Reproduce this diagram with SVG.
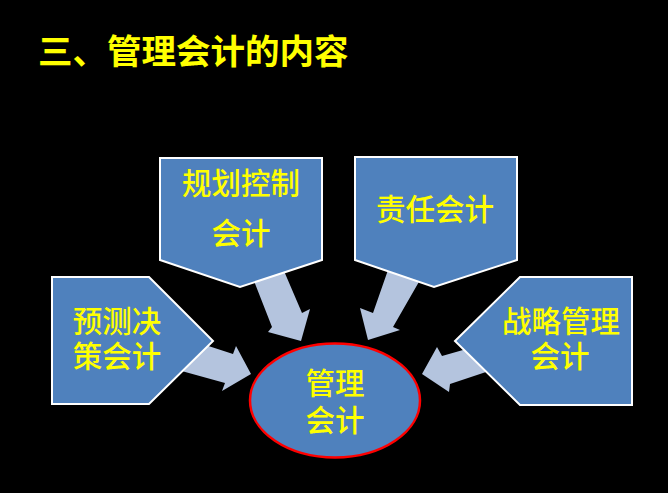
<svg xmlns="http://www.w3.org/2000/svg" width="668" height="493" viewBox="0 0 668 493">
<style>
.node{fill:#4f81bd;stroke:#ffffff;stroke-width:2}
.arrow{fill:#b4c4de;stroke:none}
.t{font-family:"Noto Sans CJK SC","Noto Sans",sans-serif;font-size:29.5px;font-weight:500;fill:#ffff00;text-anchor:middle}
.title{font-family:"Noto Sans CJK SC","Noto Sans",sans-serif;font-size:34.5px;font-weight:bold;fill:#ffff00}
</style>
<rect x="0" y="0" width="668" height="493" fill="#000000"/>
<text class="title" x="38" y="64">三、管理会计的内容</text>
<g id="connectors">
<polygon class="arrow" points="252,276 281,264 302,313 310,309 301,341 268,332 272,327"/>
<polygon class="arrow" points="388,270 420,280 393,327 400,330 368,340 360,308 373,313"/>
<polygon class="arrow" points="190,340 233,354 236,346 251,374 222,391 225,383 178,370"/>
<polygon class="arrow" points="422,374 437,347 442,356 484,344 492,370 450,384 449,392"/>
</g>
<g id="node-guihua">
<polygon class="node" points="160,158 322,158 322,260 240,287 160,260"/>
<text class="t" x="241" y="194">规划控制<tspan x="241" dy="50">会计</tspan></text>
</g>
<g id="node-zeren">
<polygon class="node" points="355,157 517,157 517,260 434,287 355,260"/>
<text class="t" x="435" y="220">责任会计</text>
</g>
<g id="node-yuce">
<polygon class="node" points="52,277 149,277 213,341 149,404 52,404"/>
<text class="t" x="117" y="332">预测决<tspan x="117" dy="35">策会计</tspan></text>
</g>
<g id="node-zhanlue">
<polygon class="node" points="520,277 632,277 632,405 520,405 455,341"/>
<text class="t" x="561" y="332">战略管理<tspan x="560" dy="35">会计</tspan></text>
</g>
<g id="node-center">
<ellipse cx="335" cy="400.5" rx="85" ry="57" fill="#4f81bd" stroke="#ff0000" stroke-width="2.5"/>
<text class="t" x="335" y="394">管理<tspan x="335" dy="37">会计</tspan></text>
</g>
</svg>
